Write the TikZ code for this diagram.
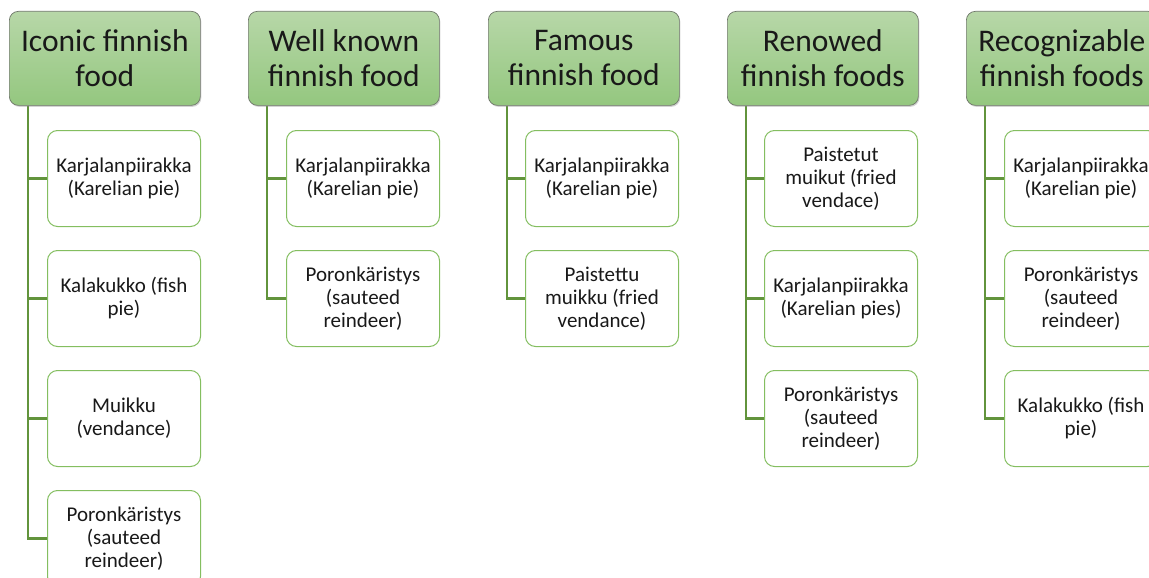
\documentclass[tikz,border=0pt]{standalone}
\usepackage{fontspec}
\setmainfont{Carlito}
\usetikzlibrary{shadows,backgrounds}
\definecolor{hdtop}{RGB}{183,215,168}
\definecolor{hdbot}{RGB}{148,199,127}
\definecolor{hdline}{RGB}{110,118,105}
\definecolor{conn}{RGB}{98,148,60}
\definecolor{cline}{RGB}{132,190,96}
\tikzset{
  hdbox/.style={rectangle, rounded corners=9pt, draw=hdline, line width=0.7pt,
    top color=hdtop, bottom color=hdbot, anchor=north west,
    minimum width=191pt, minimum height=94pt, inner sep=0pt, align=center,
    font=\fontsize{31.5}{35}\selectfont, text=black!90,
    drop shadow={shadow xshift=1pt, shadow yshift=-1.5pt, opacity=0.35}},
  itembox/.style={rectangle, rounded corners=10pt, draw=cline, line width=1pt,
    fill=white, anchor=north west, minimum width=153pt, minimum height=96pt,
    inner sep=0pt, align=center, font=\fontsize{21}{23}\selectfont, text=black!90},
  link/.style={draw=conn, line width=2.6pt}
}
\begin{document}
\begin{tikzpicture}[x=1pt,y=-1pt]
\useasboundingbox (0,0) rectangle (1149,578);
\clip (0,0) rectangle (1149,578);
% column 1
\node[hdbox] (h1) at (9,11) {Iconic finnish\\food};
\node[itembox] (c11) at (47,130) {Karjalanpiirakka\\(Karelian pie)};
\node[itembox] (c12) at (47,250) {Kalakukko (fish\\pie)};
\node[itembox] (c13) at (47,370) {Muikku\\(vendance)};
\node[itembox] (c14) at (47,490) {Poronkäristys\\(sauteed\\reindeer)};
% column 2
\node[hdbox] (h2) at (248,11) {Well known\\finnish food};
\node[itembox] (c21) at (286,130) {Karjalanpiirakka\\(Karelian pie)};
\node[itembox] (c22) at (286,250) {Poronkäristys\\(sauteed\\reindeer)};
% column 3
\node[hdbox] (h3) at (488,11) {Famous\\finnish food};
\node[itembox] (c31) at (525,130) {Karjalanpiirakka\\(Karelian pie)};
\node[itembox] (c32) at (525,250) {Paistettu\\muikku (fried\\vendance)};
% column 4
\node[hdbox] (h4) at (727,11) {Renowed\\finnish foods};
\node[itembox] (c41) at (764,130) {Paistetut\\muikut (fried\\vendace)};
\node[itembox] (c42) at (764,250) {Karjalanpiirakka\\(Karelian pies)};
\node[itembox] (c43) at (764,370) {Poronkäristys\\(sauteed\\reindeer)};
% column 5
\node[hdbox] (h5) at (966,11) {Recognizable\\finnish foods};
\node[itembox] (c51) at (1004,130) {Karjalanpiirakka\\(Karelian pie)};
\node[itembox] (c52) at (1004,250) {Poronkäristys\\(sauteed\\reindeer)};
\node[itembox] (c53) at (1004,370) {Kalakukko (fish\\pie)};
\begin{scope}[on background layer]
\foreach \h/\cs in {h1/{c11,c12,c13,c14}, h2/{c21,c22}, h3/{c31,c32}, h4/{c41,c42,c43}, h5/{c51,c52,c53}}{
  \foreach \c in \cs {
    \draw[link] ([xshift=19pt]\h.south west) |- (\c.west);
  }
}
\end{scope}
\end{tikzpicture}
\end{document}
